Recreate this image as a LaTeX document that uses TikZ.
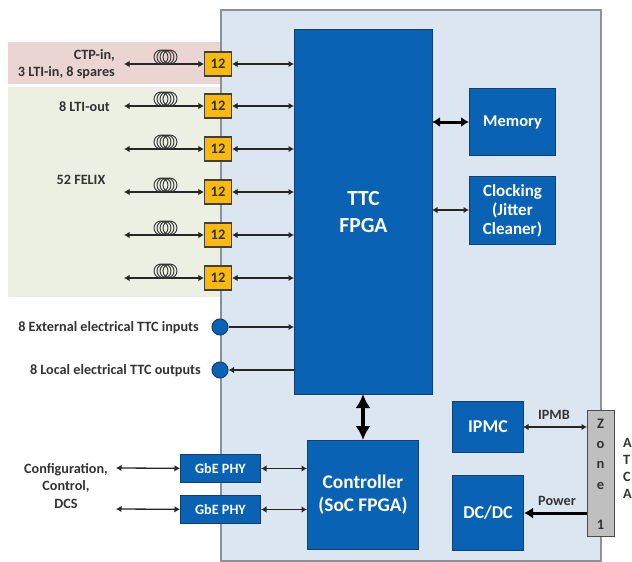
\documentclass[tikz,border=0pt]{standalone}
\usepackage{fontspec}
\setmainfont{Carlito}
\usetikzlibrary{arrows.meta,shapes.geometric}
\definecolor{panel}{HTML}{DCE6F1}
\definecolor{panelline}{HTML}{8C9196}
\definecolor{pinkbg}{HTML}{EBD5D3}
\definecolor{greenbg}{HTML}{EBF0E2}
\definecolor{bluefill}{HTML}{0A62B4}
\definecolor{blueline}{HTML}{123F70}
\definecolor{yellowfill}{HTML}{F9B90E}
\definecolor{zonefill}{HTML}{BFBFBF}
\definecolor{txt}{HTML}{333333}
\tikzset{
  blk/.style={draw=blueline,line width=1pt,fill=bluefill,text=white,font=\bfseries,align=center,inner sep=0pt,anchor=north west},
  conn/.style={draw=black!75,line width=1.1pt,fill=yellowfill,text=black!80,font=\bfseries\fontsize{14.5}{14.5}\selectfont,minimum width=27pt,minimum height=24pt,inner sep=0pt},
  port/.style={circle,draw=blueline,line width=1pt,fill=bluefill,minimum size=16pt,inner sep=0pt},
  lbl/.style={text=txt,font=\bfseries\fontsize{14.2}{17.5}\selectfont,inner sep=0pt},
  biarrow/.style={draw=black!85,line width=1.3pt,{Latex[length=5.5pt,width=6.5pt]}-{Latex[length=5.5pt,width=6.5pt]}},
  onearrow/.style={draw=black!85,line width=1.3pt,-{Latex[length=5.5pt,width=6.5pt]}},
  fatarrow/.style={draw=black,line width=3pt,{Latex[length=8pt,width=10pt]}-{Latex[length=8pt,width=10pt]}},
  hugearrow/.style={draw=black,line width=4pt,{Latex[length=14pt,width=15pt]}-{Latex[length=14pt,width=15pt]}},
  coil/.style={ellipse,draw=black!80,line width=.9pt,minimum width=14pt,minimum height=14pt,inner sep=0pt},
}
\begin{document}
\begin{tikzpicture}[x=1pt,y=-1pt]
\useasboundingbox (0,0) rectangle (632,562);
\fill[white] (0,0) rectangle (632,562);
\fill[pinkbg] (8,42) rectangle (220,84);
\fill[greenbg] (8,87) rectangle (220,297);
\draw[panelline,line width=1.5pt,fill=panel] (221,10) rectangle (601,561);

\node[blk,minimum width=138pt,minimum height=365pt,font=\bfseries\fontsize{21.5}{27}\selectfont] (ttc) at (294,29) {TTC\\FPGA};
\node[blk,minimum width=86pt,minimum height=67pt,font=\bfseries\fontsize{16.5}{19}\selectfont] (mem) at (469,88) {Memory};
\node[blk,minimum width=86pt,minimum height=68pt,font=\bfseries\fontsize{17}{19}\selectfont] (clk) at (469,176) {Clocking\\(Jitter\\Cleaner)};
\node[blk,minimum width=111pt,minimum height=109pt,font=\bfseries\fontsize{19.3}{23}\selectfont] (ctl) at (307,440) {Controller\\(SoC FPGA)};
\node[blk,minimum width=80pt,minimum height=28pt,font=\bfseries\fontsize{14.2}{16}\selectfont] (phya) at (180,454) {GbE PHY};
\node[blk,minimum width=80pt,minimum height=28pt,font=\bfseries\fontsize{14.2}{16}\selectfont] (phyb) at (180,495) {GbE PHY};
\node[blk,minimum width=71pt,minimum height=51pt,font=\bfseries\fontsize{18}{21}\selectfont] (ipmc) at (452,401) {IPMC};
\node[blk,minimum width=71pt,minimum height=75pt,font=\bfseries\fontsize{18}{21}\selectfont] (dcdc) at (452,475) {DC/DC};
\node[draw=black!70,line width=1pt,fill=zonefill,minimum width=27pt,minimum height=126pt,inner sep=0pt,anchor=north west] (zone) at (587,410) {};
\foreach \l/\yy in {Z/424,o/445,n/465,e/486,1/525}
  \node[text=black!80,font=\bfseries\fontsize{14.5}{14.5}\selectfont,inner sep=0pt] (zone\l) at (600.5,\yy) {\l};

\foreach \i/\yy in {1/64,2/106,3/149,4/192,5/235,6/278}{
  \node[conn] (c\i) at (218,\yy) {12};
  \coordinate (f\i) at (124,\yy);
  \coordinate (t\i) at (294,\yy);
  \draw[biarrow] (f\i) -- (c\i.west);
  \draw[biarrow] (c\i.east) -- (t\i);
  \foreach \k in {161,164,167,170}
    \node[coil] (coil\i\k) at (\k,\yy-7) {};
}
\node[lbl,align=right,anchor=east] (ctp) at (115,64) {CTP-in,\\3 LTI-in, 8 spares};
\node[lbl,anchor=east] (lti) at (110,107) {8 LTI-out};
\node[lbl] (felix) at (81,180) {52 FELIX};

\node[port] (pin) at (220,327) {};
\node[port] (pout) at (220,370) {};
\coordinate (tin) at (294,327);
\coordinate (tout) at (294,370);
\draw[onearrow] (pin) -- (tin);
\draw[onearrow] (tout) -- (pout);
\node[lbl,anchor=east] (lin) at (199,328) {8 External electrical TTC inputs};
\node[lbl,anchor=east] (lout) at (201,370.5) {8 Local electrical TTC outputs};

\coordinate (mleft) at (432,122);
\coordinate (cleft) at (432,210);
\draw[fatarrow] (mleft) -- (mem.west |- mleft);
\draw[biarrow] (cleft) -- (clk.west |- cleft);
\coordinate (vtop) at (363,394);
\draw[hugearrow] (vtop) -- (vtop |- ctl.north);

\coordinate (ga) at (116,468);
\coordinate (gb) at (116,509);
\draw[biarrow] (ga) -- (phya);
\draw[biarrow] (gb) -- (phyb);
\draw[biarrow] (phya) -- (ctl.west |- phya);
\draw[biarrow] (phyb) -- (ctl.west |- phyb);
\node[lbl,align=center] (cfg) at (66,486) {Configuration,\\Control,\\DCS};

\coordinate (ib) at (523,427);
\coordinate (pw) at (587,513);
\draw[biarrow] (ib) -- (zone.west |- ib);
\node[lbl] (ipmb) at (554,414.5) {IPMB};
\draw[draw=black,line width=3pt,-{Latex[length=9pt,width=11pt]}] (pw) -- (dcdc.east |- pw);
\node[lbl] (pwr) at (557,500.5) {Power};
\node[lbl,align=left,anchor=west,font=\bfseries\fontsize{14.2}{17}\selectfont] (atca) at (623,468) {A\\T\\C\\A};
\end{tikzpicture}
\end{document}
